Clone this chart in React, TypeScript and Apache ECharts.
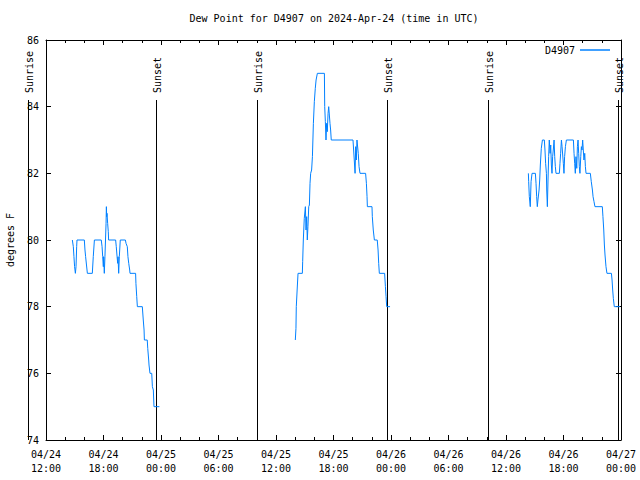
import React, { useEffect, useRef } from "react";
import * as echarts from "echarts";

const FONT = "DejaVu Sans Mono";
const LINE_COLOR = "#0080ff";
const SERIES_NAME = "D4907";
const TITLE = "Dew Point for D4907 on 2024-Apr-24 (time in UTC)";
const Y_NAME = "degrees F";

const xStart = "2024-04-24 12:00";
const xEnd = "2024-04-27 00:00";
const yMin = 74;
const yMax = 86;
const yStep = 2;
const xStepHours = 6;

const seg1Day = "2024-04-24";
const seg1Times = ["14:45","14:51","14:55","14:59","15:04","15:08","15:12","15:14","16:00","16:04","16:08","16:19","16:50","16:56","17:03","17:46","17:51","17:55","17:59","18:01","18:05","18:09","18:16","18:18","18:20","18:22","18:26","18:30","18:32","19:16","19:20","19:25","19:29","19:31","19:35","19:39","19:45","20:17","20:21","20:29","20:33","20:38","20:44","20:46","21:21","21:23","21:28","21:32","22:03","22:09","22:14","22:16","22:34","22:37","22:43","22:45","22:51","23:02","23:06","23:12","23:16","23:50"];
const seg1Values = [80,79.8,79.5,79.2,79,79.2,79.8,80,80,79.7,79.5,79,79,79.5,80,80,79.8,79.5,79.2,79.5,79,79.5,80.5,81,80.7,80.8,80.5,80.25,80,80,79.8,79.5,79.3,79.5,79,79.5,80,80,79.9,79.8,79.5,79.3,79.1,79,79,78.7,78.3,78,78,77.6,77.3,77,77,76.75,76.4,76.25,76,76,75.6,75.5,75,75];

const seg2Day = "2024-04-25";
const seg2Times = ["14:01","14:05","14:07","14:14","14:18","14:45","14:47","14:51","14:57","15:04","15:08","15:12","15:16","15:20","15:25","15:29","15:33","15:37","15:43","15:48","15:54","16:00","16:06","16:11","16:19","17:03","17:05","17:09","17:13","17:17","17:21","17:26","17:30","17:34","17:38","17:42","17:46","20:02","20:06","20:10","20:15","20:19","20:23","20:27","20:31","20:35","20:40","20:46","21:21","21:26","21:30","21:32","22:01","22:03","22:09","22:16","22:34","22:39","22:43","22:47","23:20","23:25","23:29","23:33","23:54"];
const seg2Values = [77,77.35,78,78.65,79,79,79.35,80,80.65,81,80.3,80.7,80,80.4,81,81.05,81.7,82,82.1,82.5,83.5,84.15,84.55,84.8,85,85,84,83.55,83,83.5,83.25,83.8,84,83.75,83.5,83.3,83,83,82.7,82.4,82,82.8,82.4,83,83,82.6,82.2,82,82,81.7,81.3,81,81,80.7,80.3,80,80,79.7,79.3,79,79,78.6,78.3,78,78];

const seg3Day = "2024-04-26";
const seg3Times = ["14:20","14:22","14:26","14:32","14:37","14:43","15:04","15:08","15:12","15:16","15:20","15:27","15:31","15:35","15:41","15:48","16:00","16:04","16:08","16:13","16:15","16:19","16:23","16:27","16:31","16:36","16:40","16:44","16:48","16:52","16:56","17:01","17:05","17:09","17:13","17:34","17:38","17:42","17:47","17:51","17:55","17:59","18:03","18:07","18:12","18:18","19:02","19:06","19:10","19:14","19:18","19:23","19:27","19:31","19:35","19:39","19:43","19:48","19:52","19:56","20:00","20:04","20:08","20:13","20:17","20:21","20:48","20:54","21:01","21:05","21:11","21:17","22:03","22:07","22:12","22:16","22:20","22:26","22:32","23:00","23:04","23:08","23:12","23:18","23:54"];
const seg3Values = [82,81.75,81.3,81,81.75,82,82,81.7,81.3,81,81.2,81.5,81.8,82.25,82.75,83,83,82.7,82.3,82,81.5,81,81.8,82.5,83,82.6,82.85,82.25,82,82.5,82.7,83,82.5,82.2,82,82,82.3,82.6,83,82.8,82.55,82.3,82,82.5,82.8,83,83,82.6,82.3,82,82.5,82.15,82.8,83,82.6,82.2,82,82.5,82.8,82.7,83,82.7,82.4,82.6,82.2,82,82,81.75,81.5,81.3,81.15,81,81,80.7,80.3,79.85,79.55,79.2,79,79,78.8,78.5,78.25,78,78];

const sunriseTimes = ["2024-04-24 10:07", "2024-04-25 10:03", "2024-04-26 10:05"];
const sunsetTimes = ["2024-04-24 23:29", "2024-04-25 23:32", "2024-04-26 23:40"];
const sunLineTop = 84.2;

function toMs(s: string): number {
  const [d, t] = s.split(" ");
  const [y, mo, da] = d.split("-").map(Number);
  const [h, m] = t.split(":").map(Number);
  return Date.UTC(y, mo - 1, da, h, m);
}

function pad(n: number) {
  return n < 10 ? "0" + n : String(n);
}

function buildData() {
  const segs: [string, string[], number[]][] = [
    [seg1Day, seg1Times, seg1Values],
    [seg2Day, seg2Times, seg2Values],
    [seg3Day, seg3Times, seg3Values],
  ];
  const out: any[] = [];
  segs.forEach(([day, times, vals], si) => {
    const n = Math.min(times.length, vals.length);
    let last = 0;
    for (let i = 0; i < n; i++) {
      last = toMs(day + " " + times[i]);
      out.push([last, vals[i]]);
    }
    if (si < segs.length - 1) out.push([last + 60000, null]);
  });
  return out;
}

export default function App() {
  const ref = useRef<HTMLDivElement>(null);
  useEffect(() => {
    if (!ref.current) return;
    const chart = echarts.init(ref.current, null, { renderer: "svg" });
    const min = toMs(xStart);
    const max = toMs(xEnd);
    const interval = xStepHours * 3600 * 1000;
    const textStyle = { fontFamily: FONT, fontSize: 10, color: "#000" };
    const axisLine = { show: true, lineStyle: { color: "#000", width: 1 } };
    chart.setOption({
      animation: false,
      backgroundColor: "#fff",
      textStyle,
      title: {
        text: TITLE,
        left: 329,
        top: 8,
        textAlign: "center",
        textStyle: { ...textStyle, fontWeight: "normal" },
      },
      legend: {
        right: 30,
        top: 45,
        padding: 0,
        align: "right",
        itemWidth: 30,
        itemHeight: 1.5,
        icon: "rect",
        textStyle,
        data: [{ name: SERIES_NAME }],
      },
      grid: {
        left: 46,
        right: 19,
        top: 40,
        bottom: 40,
        containLabel: false,
        outerBoundsMode: "none",
      },
      xAxis: [
        {
          type: "value",
          min,
          max,
          interval,
          axisLine,
          splitLine: { show: false },
          axisTick: { show: true, inside: true, length: 5, lineStyle: { color: "#000" } },
          minorTick: { show: true, splitNumber: 3, length: 3, lineStyle: { color: "#000" } },
          axisLabel: {
            ...textStyle,
            margin: 7,
            lineHeight: 14,
            formatter: (v: number) => {
              const d = new Date(v);
              return `${pad(d.getUTCMonth() + 1)}/${pad(d.getUTCDate())}\n${pad(d.getUTCHours())}:${pad(d.getUTCMinutes())}`;
            },
          },
        },
        {
          type: "value",
          position: "top",
          min,
          max,
          interval,
          axisLine,
          splitLine: { show: false },
          axisTick: { show: true, inside: true, length: 5, lineStyle: { color: "#000" } },
          minorTick: { show: true, splitNumber: 3, length: 3, lineStyle: { color: "#000" } },
          axisLabel: { show: false },
        },
      ],
      yAxis: [
        {
          type: "value",
          min: yMin,
          max: yMax,
          interval: yStep,
          name: Y_NAME,
          nameLocation: "middle",
          nameGap: 31,
          nameTextStyle: textStyle,
          axisLine,
          splitLine: { show: false },
          axisTick: { show: true, inside: true, length: 5, lineStyle: { color: "#000" } },
          axisLabel: { ...textStyle, margin: 7 },
        },
        {
          type: "value",
          position: "right",
          min: yMin,
          max: yMax,
          interval: yStep,
          axisLine,
          splitLine: { show: false },
          axisTick: { show: true, inside: true, length: 5, lineStyle: { color: "#000" } },
          axisLabel: { show: false },
        },
      ],
      series: [
        {
          name: SERIES_NAME,
          type: "line",
          xAxisIndex: 0,
          yAxisIndex: 0,
          data: buildData(),
          showSymbol: false,
          symbol: "none",
          connectNulls: false,
          lineStyle: { color: LINE_COLOR, width: 1 },
          itemStyle: { color: LINE_COLOR },
        },
      ],
    });

    const yBottom = chart.convertToPixel({ yAxisIndex: 0 }, yMin) as number;
    const yTop = chart.convertToPixel({ yAxisIndex: 0 }, sunLineTop) as number;
    const elements: any[] = [];
    const addEvent = (t: string, label: string) => {
      const x = Math.round(chart.convertToPixel({ xAxisIndex: 0 }, toMs(t)) as number) + 0.5;
      elements.push({
        type: "line",
        shape: { x1: x, y1: yTop, x2: x, y2: yBottom },
        style: { stroke: "#000", lineWidth: 1 },
        silent: true,
      });
      elements.push({
        type: "text",
        x: x + 1,
        y: yTop - 7,
        rotation: Math.PI / 2,
        style: {
          text: label,
          fontFamily: FONT,
          fontSize: 10,
          fill: "#000",
          align: "left",
          verticalAlign: "middle",
        },
        silent: true,
      });
    };
    sunriseTimes.forEach((t) => addEvent(t, "Sunrise"));
    sunsetTimes.forEach((t) => addEvent(t, "Sunset"));
    chart.setOption({ graphic: elements });

    return () => chart.dispose();
  }, []);
  return (
    <div
      ref={ref}
      style={{ position: "fixed", left: 0, top: 0, width: 640, height: 480 }}
    />
  );
}
